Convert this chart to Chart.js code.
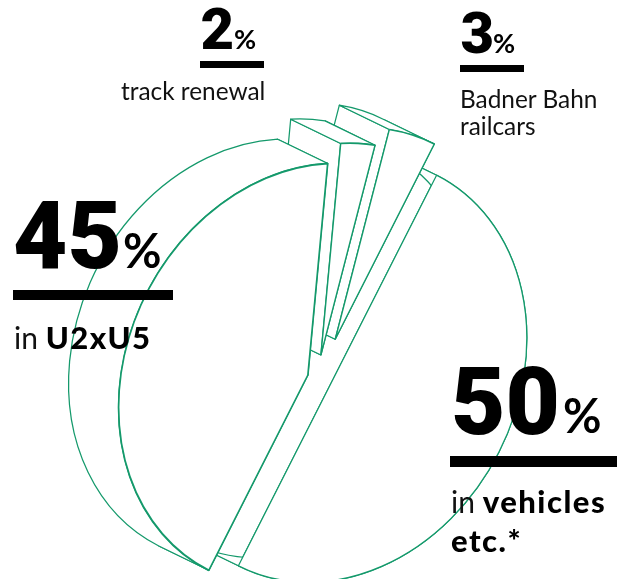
<!DOCTYPE html>
<html>
<head>
<meta charset="utf-8">
<script src="https://cdn.jsdelivr.net/npm/chart.js@4"></script>
<style>
html, body { margin: 0; background: #fff; }
#wrap { position: relative; width: 617px; height: 579px; overflow: hidden; color: #000; font-family: Lato, sans-serif; }
#myChart { position: absolute; left: 0; top: 0; }
.num, .pct, .txt, .bar { position: absolute; white-space: nowrap; }
.num { font-family: Roboto, sans-serif; font-weight: 900; line-height: 1; }
.pct { font-weight: 700; line-height: 1; }
.txt { line-height: 1; color: #111; }
.txt b { font-weight: 900; font-size: 31px; color: #000; letter-spacing: 1.5px; }
.bar { background: #000; }
</style>
</head>
<body>
<div id="wrap">
  <canvas id="myChart" width="617" height="579"></canvas>

  <div class="num" style="left:13px;top:188.5px;font-size:94px">45</div>
  <div class="pct" style="left:123px;top:227px;font-size:47px">%</div>
  <div class="bar" style="left:13px;top:289.5px;width:160px;height:10.5px"></div>
  <div class="txt" style="left:14px;top:321.5px;font-size:30px">in <b>U2xU5</b></div>

  <div class="num" style="left:451px;top:355px;font-size:94px">50</div>
  <div class="pct" style="left:563px;top:391.5px;font-size:47px">%</div>
  <div class="bar" style="left:450px;top:456px;width:167px;height:10.5px"></div>
  <div class="txt" style="left:451px;top:485.5px;font-size:30px">in <b>vehicles</b></div>
  <div class="txt" style="left:451px;top:524.5px;font-size:30px"><b>etc.*</b></div>

  <div class="num" style="left:200.5px;top:0px;font-size:58px">2</div>
  <div class="pct" style="left:234px;top:25px;font-size:27px">%</div>
  <div class="bar" style="left:200px;top:61px;width:64px;height:6.5px"></div>
  <div class="txt" style="left:121px;top:79px;font-size:24.4px">track renewal</div>

  <div class="num" style="left:460.5px;top:3.5px;font-size:58px">3</div>
  <div class="pct" style="left:493px;top:28.5px;font-size:27px">%</div>
  <div class="bar" style="left:460px;top:65px;width:64px;height:6.5px"></div>
  <div class="txt" style="left:460px;top:87px;font-size:24.4px">Badner Bahn</div>
  <div class="txt" style="left:460px;top:114px;font-size:24.4px">railcars</div>
</div>

<script>
// clockwise from the lower end of the long straight edge
const categories = ['U2xU5', 'track renewal', 'Badner Bahn railcars', 'vehicles etc.'];
// wedge sizes as drawn in the picture, the printed numbers are 45 / 2 / 3 / 50
const wedgeShare = [42.9, 2.95, 4.15, 50];

const GREEN = '#14996b';
const ROTATION = 206.9;          // chart.js rotation of the first wedge
const AXIS = 116.9 * Math.PI / 180; // long axis of the tilted disc
const SQUASH = 0.826;            // short axis / long axis
const DEPTH = {x: -50, y: -24.3};
// how far each wedge is pulled out of the disc, px
const pull = [{x: -29.6, y: 4.5}, {x: -16.6, y: -15.5}, {x: -2.3, y: -31.2}, {x: 0, y: 0}];

const cs = Math.cos(AXIS), sn = Math.sin(AXIS);
const ma = cs * cs + SQUASH * sn * sn;
const mb = cs * sn * (1 - SQUASH);
const md = sn * sn + SQUASH * cs * cs;

function place(ctx, arc, dx, dy) {
  ctx.translate(arc.x + dx, arc.y + dy);
  ctx.transform(ma, mb, mb, md, 0, 0);
  ctx.translate(-arc.x, -arc.y);
}

// screen position of a point on the wedge, r = 0 is the tip
function pointOf(arc, angle, r, dx, dy) {
  const px = r * Math.cos(angle), py = r * Math.sin(angle);
  return {x: arc.x + dx + ma * px + mb * py, y: arc.y + dy + mb * px + md * py};
}

function wall(ctx, arc, angle, p) {
  const a = pointOf(arc, angle, 0, p.x, p.y);
  const b = pointOf(arc, angle, arc.outerRadius, p.x, p.y);
  ctx.beginPath();
  ctx.moveTo(a.x, a.y);
  ctx.lineTo(b.x, b.y);
  ctx.lineTo(b.x + DEPTH.x, b.y + DEPTH.y);
  ctx.lineTo(a.x + DEPTH.x, a.y + DEPTH.y);
  // the half disc has one flat wall, no crease at its tip
  if (arc.circumference < Math.PI * 0.9) ctx.closePath();
  ctx.fill();
  ctx.stroke();
}

const extrude = {
  id: 'extrude',
  beforeDatasetsDraw(chart) {
    const ctx = chart.ctx;
    const arcs = chart.getDatasetMeta(0).data;
    // back to front: vehicles, railcars, track, U2xU5
    for (let i = arcs.length - 1; i >= 0; i--) {
      const arc = arcs[i];
      const p = pull[i];
      ctx.save();
      ctx.fillStyle = '#fff';
      ctx.strokeStyle = GREEN;
      ctx.lineWidth = 1.25;
      ctx.lineJoin = 'round';

      wall(ctx, arc, arc.endAngle, p);
      wall(ctx, arc, arc.startAngle, p);

      // outer skin between the front and the back rim
      ctx.beginPath();
      ctx.save();
      place(ctx, arc, p.x, p.y);
      ctx.arc(arc.x, arc.y, arc.outerRadius, arc.startAngle, arc.endAngle);
      ctx.restore();
      ctx.save();
      place(ctx, arc, p.x + DEPTH.x, p.y + DEPTH.y);
      ctx.arc(arc.x, arc.y, arc.outerRadius, arc.endAngle, arc.startAngle, true);
      ctx.restore();
      ctx.closePath();
      ctx.fill();
      ctx.stroke();
      ctx.restore();

      ctx.save();
      place(ctx, arc, p.x, p.y);
      arc.draw(ctx);
      ctx.restore();
    }
    return false;
  }
};

const config = {
  type: 'pie',
  data: {
    labels: categories,
    datasets: [{
      data: wedgeShare,
      backgroundColor: '#fff',
      borderColor: GREEN,
      borderWidth: [2, 1.7, 1.7, 1.5],
      borderAlign: 'center'
    }]
  },
  options: {
    responsive: false,
    animation: false,
    radius: 219,
    rotation: ROTATION,
    layout: {padding: {left: 58, top: 162}},
    events: [],
    plugins: {legend: {display: false}, tooltip: {enabled: false}, title: {display: false}}
  },
  plugins: [extrude]
};

const myChart = new Chart(document.getElementById('myChart'), config);
</script>
</body>
</html>
